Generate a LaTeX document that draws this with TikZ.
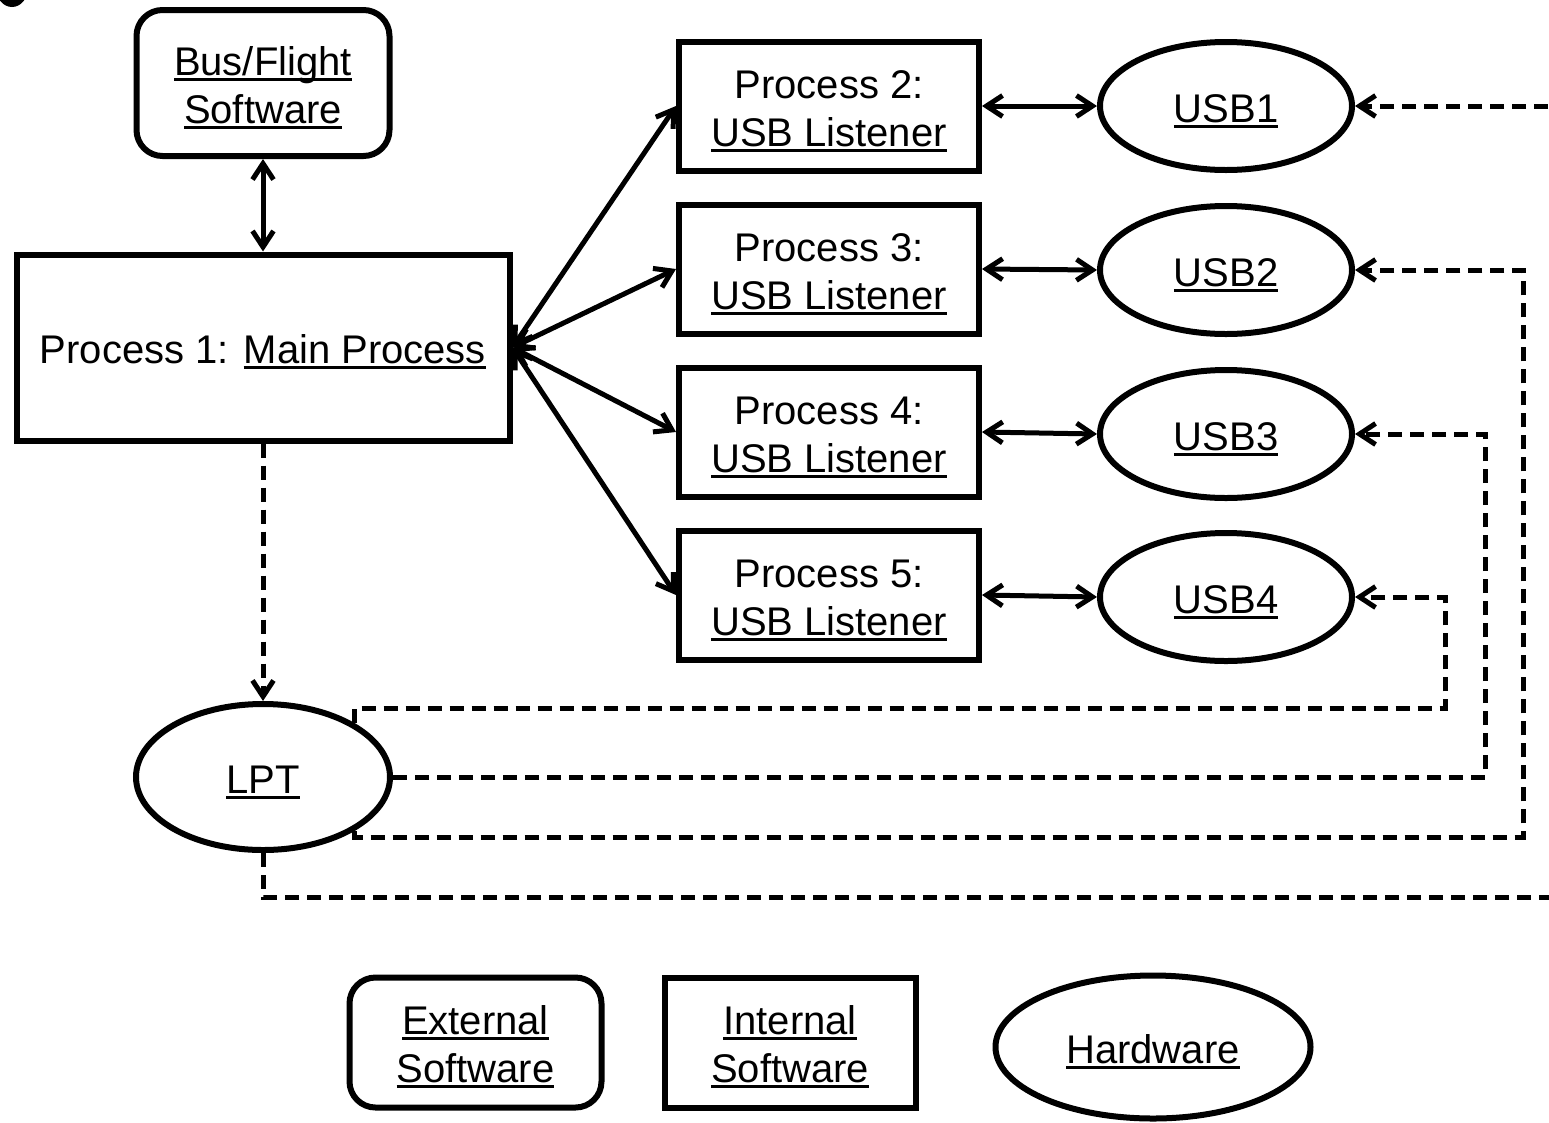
\documentclass[tikz,border=0pt]{standalone}
\usepackage{fontspec}
\setmainfont{Liberation Sans}
\newsavebox\myulbox
\newcommand\myul[1]{\sbox\myulbox{#1}\rlap{\rule[-5.5pt]{\wd\myulbox}{2.8pt}}\usebox\myulbox}
\newcommand\ts{\rule{0pt}{38pt}}
\usetikzlibrary{arrows.meta,shapes.geometric}
\begin{document}
\begin{tikzpicture}[x=1pt,y=-1pt,
  every node/.style={font=\fontsize{40}{48}\selectfont, align=center, inner sep=0pt},
  rbox/.style={draw, line width=6pt, rounded corners=26pt, minimum width=#1, minimum height=130pt},
  sbox/.style={draw, line width=6pt, minimum width=300pt, minimum height=129pt},
  hw/.style={draw, ellipse, line width=6pt, minimum width=252pt, minimum height=128pt},
  biarrow/.style={line width=5pt, {Straight Barb[length=16pt,width=21pt]}-{Straight Barb[length=16pt,width=21pt]}},
  dsh/.style={line width=5pt, dash pattern=on 14pt off 8pt, -{Straight Barb[length=16pt,width=21pt]}},
]
\useasboundingbox (0,0) rectangle (1549,1122);
\clip (0,0) rectangle (1549,1122);
\fill (12,-12) ellipse (16 and 19);

\node[rbox=253pt, minimum height=146pt] (bus) at (263,83) {\ts\myul{Bus/Flight}\\\myul{Software}};
\node[draw, line width=6pt, minimum width=493pt, minimum height=186pt] (main) at (263,347.5) {\ts Process 1: \myul{Main Process}};

\node[sbox] (p2) at (829,106) {\ts Process 2:\\\myul{USB Listener}};
\node[sbox] (p3) at (829,269) {\ts Process 3:\\\myul{USB Listener}};
\node[sbox] (p4) at (829,432) {\ts Process 4:\\\myul{USB Listener}};
\node[sbox] (p5) at (829,595) {\ts Process 5:\\\myul{USB Listener}};

\node[hw] (u1) at (1226,106) {\ts\myul{USB1}};
\node[hw] (u2) at (1226,270) {\ts\myul{USB2}};
\node[hw] (u3) at (1226,434) {\ts\myul{USB3}};
\node[hw] (u4) at (1226,597) {\ts\myul{USB4}};

\node[hw, minimum width=254pt, minimum height=146pt] (lpt) at (263,777) {\ts\myul{LPT}};

\node[rbox=252pt] (ext) at (475.5,1042.5) {\ts\myul{External}\\\myul{Software}};
\node[draw, line width=6pt, minimum width=251pt, minimum height=130pt] (int) at (790,1042.5) {\ts\myul{Internal}\\\myul{Software}};
\node[hw, minimum width=315pt, minimum height=143pt] (hwl) at (1153,1047) {\ts\myul{Hardware}};

\draw[biarrow] (bus.south) -- (main.north);
\draw[biarrow] (main.east) -- (p2.west);
\draw[biarrow] (main.east) -- (p3.west);
\draw[biarrow] (main.east) -- (p4.west);
\draw[biarrow] (main.east) -- (p5.west);
\draw[biarrow] (p2.east) -- (u1.west);
\draw[biarrow] (p3.east) -- (u2.west);
\draw[biarrow] (p4.east) -- (u3.west);
\draw[biarrow] (p5.east) -- (u4.west);

\coordinate (e1) at (1570,106);
\coordinate (e2) at (1570,897);
\draw[dsh] (main.south) -- (lpt.north);
\draw[dsh] (e1) -- (u1.east);
\draw[dsh] (lpt.south east) |- (1523,837) |- (u2.east);
\draw[dsh] (lpt.east) -| (1485,434) -- (u3.east);
\draw[dsh] (lpt.north east) |- (1445,708) |- (u4.east);
\draw[line width=5pt, dash pattern=on 14pt off 8pt] (lpt.south) |- (e2);
\end{tikzpicture}
\end{document}
